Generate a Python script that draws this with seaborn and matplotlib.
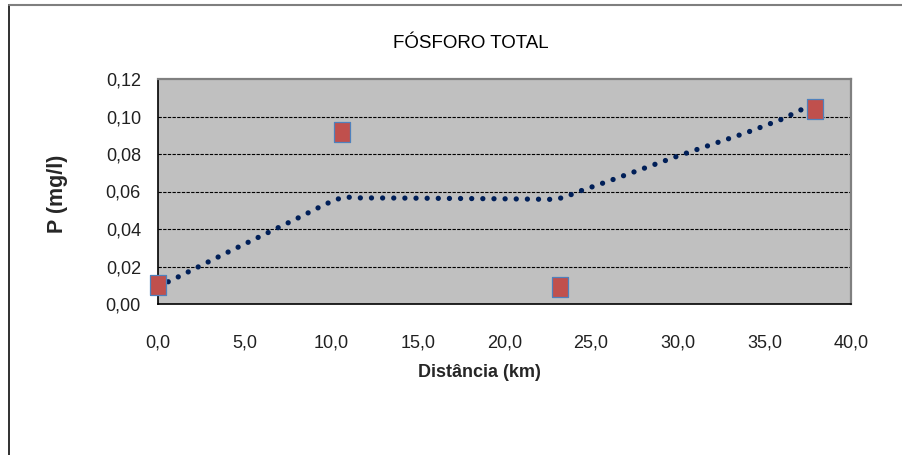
import matplotlib
matplotlib.use("Agg")
import matplotlib.pyplot as plt
import seaborn as sns
import pandas as pd
from matplotlib.patches import Rectangle
from matplotlib.ticker import FuncFormatter

# Modelled total phosphorus along the river (km, mg/l)
model_km = [0.0, 0.7, 2.0, 4.0, 6.0, 8.0, 9.5, 10.2, 10.8, 11.5, 14.0, 17.0, 20.0, 22.8, 23.5, 24.1, 26.0, 28.0, 30.0, 32.0, 34.0, 36.0, 37.1, 37.9]
model_p = [0.0095, 0.0123, 0.0183, 0.0275, 0.0365, 0.0455, 0.0525, 0.0555, 0.0571, 0.0566, 0.0565, 0.0563, 0.0561, 0.0558, 0.0569, 0.0594, 0.0655, 0.0722, 0.0789, 0.0852, 0.0915, 0.0985, 0.1035, 0.1055]

# Measured samples
obs_km = [0.0, 10.6, 23.2, 37.9]
obs_p = [0.0100, 0.0920, 0.0090, 0.1040]

x_ticks = [0, 5, 10, 15, 20, 25, 30, 35, 40]
y_ticks = [0.00, 0.02, 0.04, 0.06, 0.08, 0.10, 0.12]

title = "FÓSFORO TOTAL"
x_label = "Distância (km)"
y_label = "P (mg/l)"

sns.set_style("white")
plt.rcParams["font.family"] = ["Liberation Sans", "DejaVu Sans"]

model_df = pd.DataFrame({"km": model_km, "p": model_p})
obs_df = pd.DataFrame({"km": obs_km, "p": obs_p})

W, H = 902, 455
fig = plt.figure(figsize=(W / 100, H / 100), dpi=100)
fig.patch.set_facecolor("white")

# outer chart frame (left and top edges visible)
fig.add_artist(Rectangle((9 / W, -0.2), 1.2, 1.2 - 5 / H, transform=fig.transFigure,
                         fill=False, edgecolor="#202020", linewidth=1.3, clip_on=False))
fig.add_artist(plt.Line2D([9 / W, 1.0], [1 - 5 / H, 1 - 5 / H], transform=fig.transFigure,
                          color="#7f7f7f", linewidth=1.5))

left, right, top, bottom = 158, 851, 79, 304
ax = fig.add_axes([left / W, 1 - bottom / H, (right - left) / W, (bottom - top) / H])
ax.set_facecolor("#c0c0c0")

sns.lineplot(data=model_df, x="km", y="p", ax=ax, sort=False, estimator=None,
             color="#001f58", linewidth=3.8, linestyle=(0, (0.01, 2.1)),
             dash_capstyle="round", zorder=3)

rect_marker = [(-0.44, -0.5), (0.44, -0.5), (0.44, 0.5), (-0.44, 0.5), (-0.44, -0.5)]
sns.scatterplot(data=obs_df, x="km", y="p", ax=ax, marker=rect_marker, s=190,
                color="#c0504d", edgecolor="#4f81bd", linewidth=0.9, zorder=4,
                clip_on=False)

ax.set_xlim(0, 40)
ax.set_ylim(0, 0.12)
ax.set_xticks(x_ticks)
ax.set_yticks(y_ticks)
ax.xaxis.set_major_formatter(FuncFormatter(lambda v, _: f"{v:.1f}".replace(".", ",")))
ax.yaxis.set_major_formatter(FuncFormatter(lambda v, _: f"{v:.2f}".replace(".", ",")))

for yv in y_ticks[1:-1]:
    ax.axhline(yv, color="black", linewidth=0.8, linestyle=(0, (3, 1.2)), zorder=1)

for side in ("top", "right"):
    ax.spines[side].set_color("#808080")
    ax.spines[side].set_linewidth(1.6)
for side in ("left", "bottom"):
    ax.spines[side].set_color("black")
    ax.spines[side].set_linewidth(1.2)

ax.tick_params(axis="x", direction="inout", length=9, width=1, color="black",
               pad=17.5, labelsize=13, labelcolor="#202020")
ax.tick_params(axis="y", direction="inout", length=6.5, width=1, color="black",
               pad=9, labelsize=13, labelcolor="#202020")

ax.set_xlabel(x_label, fontsize=13, fontweight="bold", va="center")
ax.xaxis.set_label_coords((479 - left) / (right - left), -(373 - bottom) / (bottom - top))
ax.set_ylabel(y_label, fontsize=15.5, fontweight="bold", va="center", ha="center")
ax.yaxis.set_label_coords((57.5 - left) / (right - left), 0.49)

fig.text(471 / W, 1 - 43 / H, title, fontsize=13.5, ha="center", va="center", color="black")

fig.savefig("out.png", dpi=100)
